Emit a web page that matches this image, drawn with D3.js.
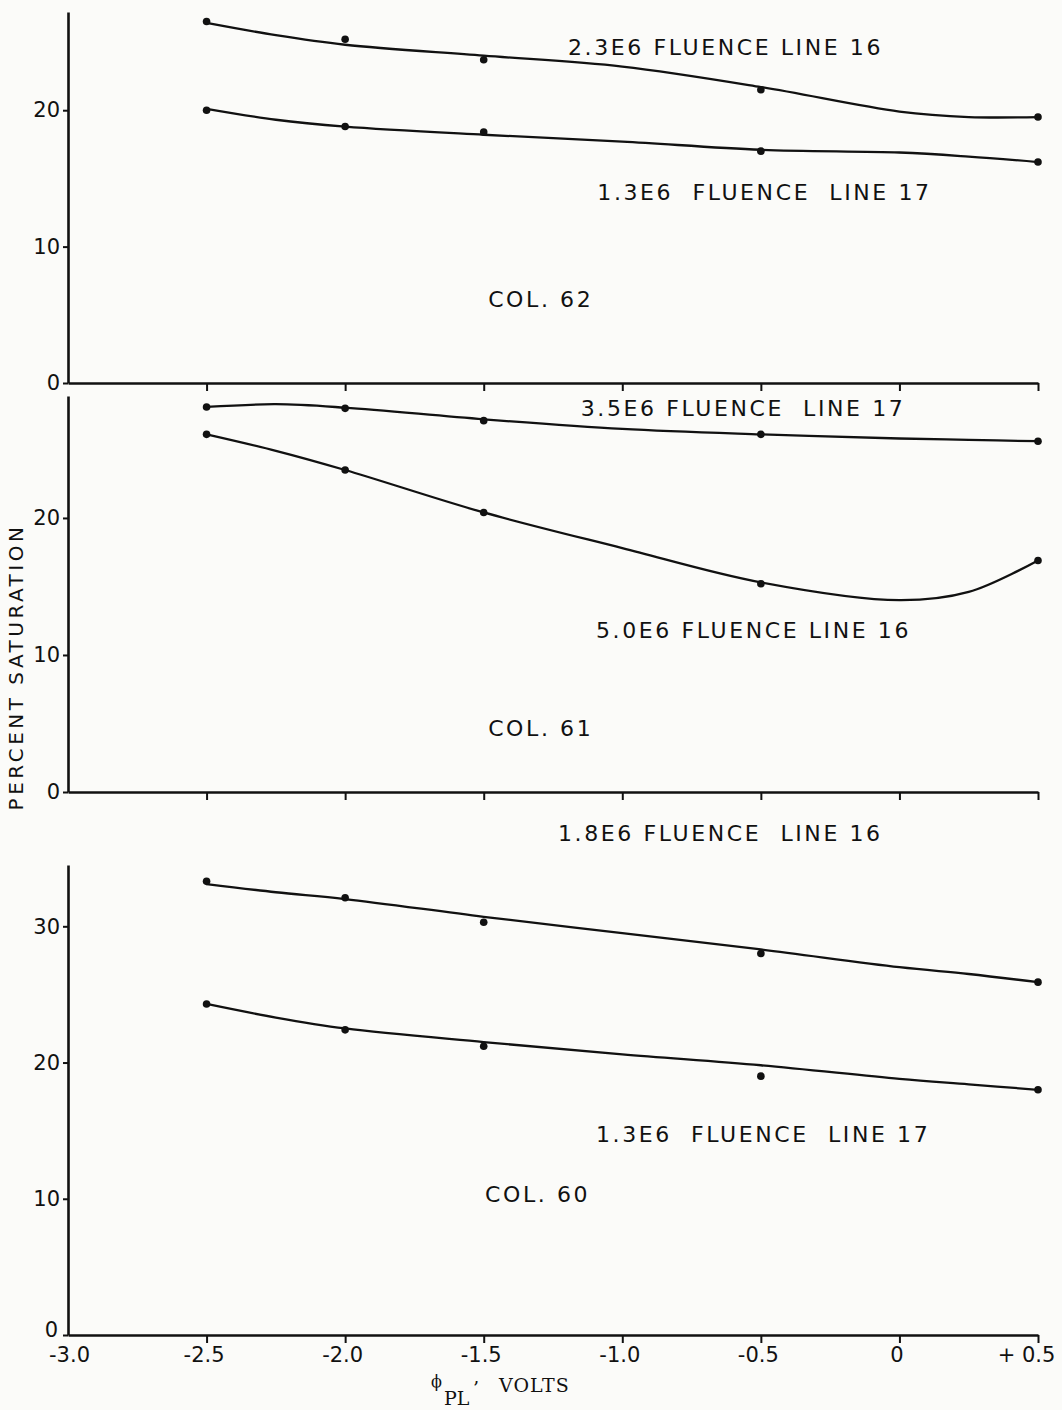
<!DOCTYPE html>
<html>
<head>
<meta charset="utf-8">
<script src="https://cdn.jsdelivr.net/npm/d3@7"></script>
<style>
  body { margin: 0; background: #fbfbf9; }
  text { font-family: "DejaVu Sans", sans-serif; fill: #111; }
</style>
</head>
<body>
<div id="chart"></div>
<script>
// measured points: bias voltage (volts) vs percent saturation
var voltages = [-2.5, -2.0, -1.5, -0.5, 0.5];
var col62Line16 = [26.5, 25.2, 23.7, 21.5, 19.5];
var col62Line17 = [20.0, 18.8, 18.4, 17.0, 16.2];
var col61Line17 = [28.1, 28.0, 27.1, 26.1, 25.6];
var col61Line16 = [26.1, 23.5, 20.4, 15.2, 16.9];
var col60Line16 = [33.3, 32.1, 30.3, 28.0, 25.9];
var col60Line17 = [24.3, 22.4, 21.2, 19.0, 18.0];

// hand drawn curves
var curveVolts = [-2.5, -2.25, -2.0, -1.5, -1.0, -0.5, 0, 0.25, 0.5];
var col62Line16Curve = [26.4, 25.5, 24.8, 24.0, 23.2, 21.7, 19.9, 19.5, 19.5];
var col62Line17Curve = [20.1, 19.3, 18.8, 18.2, 17.7, 17.1, 16.9, 16.6, 16.2];
var col61Line17Curve = [28.1, 28.3, 28.05, 27.2, 26.5, 26.1, 25.8, 25.7, 25.6];
var col61Line16Curve = [26.1, 24.9, 23.5, 20.4, 17.8, 15.3, 14.0, 14.6, 16.9];
var col60Line16Curve = [33.1, 32.5, 32.0, 30.7, 29.5, 28.3, 27.0, 26.5, 25.9];
var col60Line17Curve = [24.3, 23.3, 22.5, 21.5, 20.6, 19.8, 18.8, 18.4, 18.0];

var xTicks = [-3.0, -2.5, -2.0, -1.5, -1.0, -0.5, 0, 0.5];
var xTickLabels = ["-3.0", "-2.5", "-2.0", "-1.5", "-1.0", "-0.5", "0", "+ 0.5"];

var width = 1062, height = 1410;

var svg = d3.select("#chart")
  .append("svg")
    .attr("width", width)
    .attr("height", height);

svg.append("rect")
  .attr("width", width)
  .attr("height", height)
  .attr("fill", "#fbfbf9");

var x = d3.scaleLinear()
  .domain([-3, 0.5])
  .range([68, 1038]);

// three stacked panels sharing the x scale
var panels = [
  { bottom: 383, top: 12, yMax: 27.2, yTicks: [0, 10, 20], labels: false,
    series: [[col62Line16, col62Line16Curve], [col62Line17, col62Line17Curve]],
    notes: [["2.3E6 FLUENCE LINE 16", -1.196, 24.6],
            ["1.3E6  FLUENCE  LINE 17", -1.09, 14.0],
            ["COL. 62", -1.484, 6.15]] },
  { bottom: 792, top: 396, yMax: 28.9, yTicks: [0, 10, 20], labels: false,
    series: [[col61Line17, col61Line17Curve], [col61Line16, col61Line16Curve]],
    notes: [["3.5E6 FLUENCE  LINE 17", -1.15, 28.0],
            ["5.0E6 FLUENCE LINE 16", -1.095, 11.75],
            ["COL. 61", -1.484, 4.6]] },
  { bottom: 1335, top: 865, yMax: 34.5, yTicks: [0, 10, 20, 30], labels: true,
    series: [[col60Line16, col60Line16Curve], [col60Line17, col60Line17Curve]],
    notes: [["1.8E6 FLUENCE  LINE 16", -1.232, 36.8],
            ["1.3E6  FLUENCE  LINE 17", -1.095, 14.7],
            ["COL. 60", -1.495, 10.3]] }
];

panels.forEach(function(p) {
  var y = d3.scaleLinear()
    .domain([0, p.yMax])
    .range([p.bottom, p.top]);

  // X axis
  var xAxis = d3.axisBottom(x)
    .tickValues(p.labels ? xTicks : xTicks.slice(1))
    .tickSize(8)
    .tickSizeOuter(0)
    .tickPadding(4)
    .tickFormat(function(d) { return p.labels ? xTickLabels[xTicks.indexOf(d)] : ""; });
  var gx = svg.append("g")
    .attr("transform", "translate(0," + p.bottom + ")")
    .call(xAxis);
  if (p.labels) {
    gx.selectAll(".tick").filter(function(d) { return d === -3; }).select("line").remove();
    gx.selectAll(".tick text")
      .attr("dx", function(d) { return d === 0.5 ? -12 : (d === -3 ? 1 : -3); });
  }

  // Y axis
  var gy = svg.append("g")
    .attr("transform", "translate(68,0)")
    .call(d3.axisLeft(y).tickValues(p.yTicks).tickSize(5).tickSizeOuter(0));
  if (p.labels) {
    gy.selectAll(".tick text").filter(function(d) { return d === 0; })
      .attr("dy", "0.05em").attr("x", -10);
  }

  [gx, gy].forEach(function(g) {
    g.select(".domain").attr("stroke", "#111").attr("stroke-width", 2.6);
    g.selectAll(".tick line").attr("stroke", "#111").attr("stroke-width", 2);
    g.selectAll(".tick text")
      .style("font-family", '"DejaVu Sans", sans-serif')
      .style("font-size", "21px")
      .attr("fill", "#111");
  });

  var line = d3.line()
    .x(function(d) { return x(d[0]); })
    .y(function(d) { return y(d[1]); })
    .curve(d3.curveCatmullRom.alpha(0.5));

  p.series.forEach(function(s) {
    svg.append("path")
      .datum(curveVolts.map(function(v, i) { return [v, s[1][i]]; }))
      .attr("fill", "none")
      .attr("stroke", "#111")
      .attr("stroke-width", 2.3)
      .attr("d", line);

    svg.append("g")
      .selectAll("circle")
      .data(voltages.map(function(v, i) { return [v, s[0][i]]; }))
      .enter()
      .append("circle")
        .attr("cx", function(d) { return x(d[0]); })
        .attr("cy", function(d) { return y(d[1]); })
        .attr("r", 3.8)
        .attr("fill", "#111");
  });

  p.notes.forEach(function(n) {
    svg.append("text")
      .attr("x", x(n[1]))
      .attr("y", y(n[2]))
      .attr("dominant-baseline", "central")
      .style("font-size", "22px")
      .style("letter-spacing", "2.6px")
      .style("white-space", "pre")
      .text(n[0]);
  });
});

// y axis title
svg.append("text")
  .attr("transform", "translate(16,667) rotate(-90)")
  .attr("text-anchor", "middle")
  .attr("dominant-baseline", "central")
  .style("font-size", "20px")
  .style("letter-spacing", "3.5px")
  .text("PERCENT SATURATION");

// x axis title: phi with subscript PL
var xt = svg.append("text")
  .style("font-family", '"DejaVu Serif", serif')
  .style("font-size", "19px");
xt.append("tspan").attr("x", 431).attr("y", 1387).style("font-size", "16px").text("\u03d5");
xt.append("tspan").attr("x", 444).attr("y", 1405).text("PL");
xt.append("tspan").attr("x", 473).attr("y", 1395).text("\u2019");
xt.append("tspan").attr("x", 499).attr("y", 1392).style("letter-spacing", "1px").text("VOLTS");
</script>
</body>
</html>
